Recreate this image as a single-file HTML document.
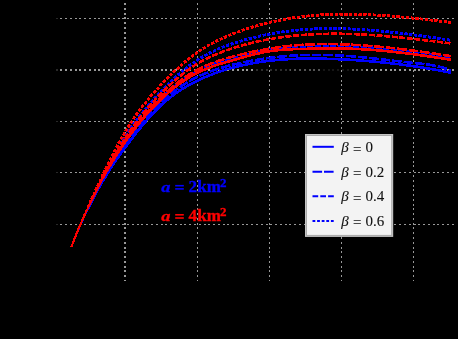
<!DOCTYPE html>
<html><head><meta charset="utf-8"><title>plot</title>
<style>
html,body{margin:0;padding:0;background:#000;}
body{width:458px;height:339px;overflow:hidden;}
svg{display:block;opacity:0.999;will-change:transform;}
text{font-family:"Liberation Serif",serif;}
.lg{font-size:15px;fill:#111;}
.an{font-size:17px;font-weight:bold;}
</style></head>
<body>
<svg width="458" height="339" viewBox="0 0 458 339">
<rect x="0" y="0" width="458" height="339" fill="#000"/>
<g shape-rendering="crispEdges">
<line x1="60.3" y1="18.5" x2="457.3" y2="18.5" stroke="#999999" stroke-width="1" stroke-dasharray="2 2.774"/>
<rect x="56" y="18.0" width="2" height="1" fill="#2a2a2a"/>
<line x1="60.3" y1="70" x2="255" y2="70" stroke="#999999" stroke-width="2" stroke-dasharray="2 2.774" stroke-dashoffset="0.000" opacity="1.0"/>
<line x1="255" y1="70" x2="290" y2="70" stroke="#999999" stroke-width="2" stroke-dasharray="2 2.774" stroke-dashoffset="3.740" opacity="0.3"/>
<line x1="290" y1="70" x2="320" y2="70" stroke="#999999" stroke-width="2" stroke-dasharray="2 2.774" stroke-dashoffset="0.548" opacity="0.55"/>
<line x1="320" y1="70" x2="352" y2="70" stroke="#999999" stroke-width="2" stroke-dasharray="2 2.774" stroke-dashoffset="1.904" opacity="0.15"/>
<line x1="352" y1="70" x2="365" y2="70" stroke="#999999" stroke-width="2" stroke-dasharray="2 2.774" stroke-dashoffset="0.486" opacity="0.6"/>
<line x1="365" y1="70" x2="457.3" y2="70" stroke="#999999" stroke-width="2" stroke-dasharray="2 2.774" stroke-dashoffset="3.938" opacity="1.0"/>
<rect x="56" y="69.0" width="2" height="2" fill="#2a2a2a"/>
<line x1="60.3" y1="121.5" x2="457.3" y2="121.5" stroke="#999999" stroke-width="1" stroke-dasharray="2 2.774"/>
<rect x="56" y="121.0" width="2" height="1" fill="#2a2a2a"/>
<line x1="60.3" y1="172.5" x2="457.3" y2="172.5" stroke="#999999" stroke-width="1" stroke-dasharray="2 2.774"/>
<rect x="56" y="172.0" width="2" height="1" fill="#2a2a2a"/>
<line x1="60.3" y1="224.5" x2="457.3" y2="224.5" stroke="#999999" stroke-width="1" stroke-dasharray="2 2.774"/>
<rect x="56" y="224.0" width="2" height="1" fill="#2a2a2a"/>
<line x1="125" y1="3.12" x2="125" y2="280.7" stroke="#999999" stroke-width="2" stroke-dasharray="2 2.774"/>
<line x1="197.5" y1="3.12" x2="197.5" y2="280.7" stroke="#999999" stroke-width="1" stroke-dasharray="2 2.774"/>
<line x1="269.5" y1="3.12" x2="269.5" y2="280.7" stroke="#999999" stroke-width="1" stroke-dasharray="2 2.774"/>
<line x1="341.5" y1="3.12" x2="341.5" y2="280.7" stroke="#999999" stroke-width="1" stroke-dasharray="2 2.774"/>
<line x1="413.5" y1="3.12" x2="413.5" y2="280.7" stroke="#999999" stroke-width="1" stroke-dasharray="2 2.774"/>
</g>
<g stroke-linejoin="round" shape-rendering="crispEdges">
<path d="M71.20,247.30 L72.73,243.35 L74.25,239.52 L75.78,235.79 L77.31,232.17 L78.84,228.64 L80.36,225.20 L81.89,221.85 L83.42,218.56 L84.95,215.35 L86.47,212.20 L88.00,209.11" fill="none" stroke="#0000ff" stroke-width="1.92"/>
<path d="M88.00,209.11 L89.45,206.22 L90.91,203.36 L92.36,200.53 L93.82,197.74 L95.27,194.98 L96.73,192.26 L98.18,189.57 L99.64,186.92 L101.09,184.32 L102.55,181.75 L104.00,179.23" fill="none" stroke="#0000ff" stroke-width="2.24"/>
<path d="M104.00,179.23 L105.50,176.68 L107.00,174.19 L108.51,171.74 L110.01,169.35 L111.51,167.02 L113.01,164.73 L114.52,162.49 L116.02,160.28 L117.52,158.12 L119.02,155.98 L120.52,153.88 L122.03,151.80 L123.53,149.74 L125.03,147.70 L126.53,145.67 L128.03,143.66 L129.54,141.67 L131.04,139.69 L132.54,137.73 L134.04,135.79 L135.55,133.87 L137.05,131.98 L138.55,130.10 L140.05,128.25 L141.55,126.42 L143.06,124.62 L144.56,122.84 L146.06,121.09 L147.56,119.37 L149.06,117.68 L150.57,116.02 L152.07,114.39 L153.57,112.80 L155.07,111.23 L156.58,109.71 L158.08,108.21 L159.58,106.76 L161.08,105.34 L162.58,103.96 L164.09,102.62 L165.59,101.31 L167.09,100.04 L168.59,98.81 L170.10,97.61 L171.60,96.44 L173.10,95.30 L174.60,94.20 L176.10,93.13 L177.61,92.08 L179.11,91.07 L180.61,90.08 L182.11,89.12 L183.61,88.19 L185.12,87.28 L186.62,86.39 L188.12,85.53 L189.62,84.69 L191.13,83.87 L192.63,83.08 L194.13,82.30 L195.63,81.54 L197.13,80.80 L198.64,80.08 L200.14,79.38 L201.64,78.69 L203.14,78.01 L204.65,77.36 L206.15,76.72 L207.65,76.09 L209.15,75.48 L210.65,74.89 L212.16,74.31 L213.66,73.74 L215.16,73.19 L216.66,72.65 L218.16,72.13 L219.67,71.61 L221.17,71.12 L222.67,70.63 L224.17,70.16 L225.68,69.70 L227.18,69.25 L228.68,68.81 L230.18,68.39 L231.68,67.97 L233.19,67.57 L234.69,67.18 L236.19,66.79 L237.69,66.42 L239.19,66.06 L240.70,65.71 L242.20,65.37 L243.70,65.03 L245.20,64.71 L246.71,64.40 L248.21,64.10 L249.71,63.80 L251.21,63.52 L252.71,63.24 L254.22,62.98 L255.72,62.72 L257.22,62.47 L258.72,62.23 L260.23,62.00 L261.73,61.78 L263.23,61.57 L264.73,61.36 L266.23,61.17 L267.74,60.98 L269.24,60.80 L270.74,60.63 L272.24,60.46 L273.74,60.30 L275.25,60.15 L276.75,60.01 L278.25,59.88 L279.75,59.75 L281.26,59.63 L282.76,59.52 L284.26,59.41 L285.76,59.31 L287.26,59.22 L288.77,59.13 L290.27,59.05 L291.77,58.98 L293.27,58.91 L294.77,58.85 L296.28,58.79 L297.78,58.74 L299.28,58.70 L300.78,58.66 L302.29,58.63 L303.79,58.60 L305.29,58.58 L306.79,58.56 L308.29,58.55 L309.80,58.54 L311.30,58.54 L312.80,58.55 L314.30,58.55 L315.81,58.57 L317.31,58.58 L318.81,58.60 L320.31,58.63 L321.81,58.66 L323.32,58.69 L324.82,58.73 L326.32,58.77 L327.82,58.82 L329.32,58.87 L330.83,58.92 L332.33,58.97 L333.83,59.03 L335.33,59.09 L336.84,59.16 L338.34,59.22 L339.84,59.29 L341.34,59.37 L342.84,59.44 L344.35,59.52 L345.85,59.60 L347.35,59.68 L348.85,59.77 L350.35,59.86 L351.86,59.95 L353.36,60.04 L354.86,60.14 L356.36,60.24 L357.87,60.34 L359.37,60.45 L360.87,60.55 L362.37,60.66 L363.87,60.78 L365.38,60.89 L366.88,61.01 L368.38,61.13 L369.88,61.26 L371.39,61.38 L372.89,61.51 L374.39,61.65 L375.89,61.78 L377.39,61.92 L378.90,62.06 L380.40,62.21 L381.90,62.36 L383.40,62.51 L384.90,62.66 L386.41,62.82 L387.91,62.98 L389.41,63.14 L390.91,63.31 L392.42,63.48 L393.92,63.65 L395.42,63.83 L396.92,64.01 L398.42,64.19 L399.93,64.37 L401.43,64.56 L402.93,64.75 L404.43,64.95 L405.94,65.15 L407.44,65.35 L408.94,65.56 L410.44,65.77 L411.94,65.98 L413.45,66.19 L414.95,66.41 L416.45,66.64 L417.95,66.86 L419.45,67.09 L420.96,67.33 L422.46,67.56 L423.96,67.80 L425.46,68.05 L426.97,68.29 L428.47,68.55 L429.97,68.80 L431.47,69.06 L432.97,69.32 L434.48,69.59 L435.98,69.86 L437.48,70.13 L438.98,70.41 L440.48,70.69 L441.99,70.97 L443.49,71.26 L444.99,71.55 L446.49,71.85 L448.00,72.15 L449.50,72.45 L451.00,72.76" fill="none" stroke="#0000ff" stroke-width="2.60"/>
<path d="M71.20,247.30 L72.73,243.37 L74.25,239.54 L75.78,235.80 L77.31,232.16 L78.84,228.61 L80.36,225.14 L81.89,221.75 L83.42,218.43 L84.95,215.17 L86.47,211.98 L88.00,208.84" fill="none" stroke="#0000ff" stroke-width="1.92" stroke-dasharray="9.6 1.9" stroke-dashoffset="0.00"/>
<path d="M88.00,208.84 L89.45,205.90 L90.91,203.00 L92.36,200.14 L93.82,197.31 L95.27,194.52 L96.73,191.77 L98.18,189.05 L99.64,186.37 L101.09,183.73 L102.55,181.13 L104.00,178.57" fill="none" stroke="#0000ff" stroke-width="2.24" stroke-dasharray="9.6 1.9" stroke-dashoffset="7.48"/>
<path d="M104.00,178.57 L105.50,175.98 L107.00,173.43 L108.51,170.93 L110.01,168.47 L111.51,166.07 L113.01,163.70 L114.52,161.37 L116.02,159.09 L117.52,156.83 L119.02,154.61 L120.52,152.42 L122.03,150.25 L123.53,148.11 L125.03,145.99 L126.53,143.89 L128.03,141.81 L129.54,139.75 L131.04,137.71 L132.54,135.70 L134.04,133.70 L135.55,131.73 L137.05,129.79 L138.55,127.87 L140.05,125.97 L141.55,124.10 L143.06,122.26 L144.56,120.45 L146.06,118.66 L147.56,116.90 L149.06,115.18 L150.57,113.48 L152.07,111.82 L153.57,110.18 L155.07,108.58 L156.58,107.02 L158.08,105.48 L159.58,103.99 L161.08,102.52 L162.58,101.10 L164.09,99.71 L165.59,98.35 L167.09,97.03 L168.59,95.75 L170.10,94.49 L171.60,93.27 L173.10,92.08 L174.60,90.93 L176.10,89.80 L177.61,88.71 L179.11,87.65 L180.61,86.61 L182.11,85.61 L183.61,84.63 L185.12,83.69 L186.62,82.77 L188.12,81.87 L189.62,81.01 L191.13,80.17 L192.63,79.35 L194.13,78.56 L195.63,77.80 L197.13,77.05 L198.64,76.33 L200.14,75.64 L201.64,74.96 L203.14,74.31 L204.65,73.68 L206.15,73.06 L207.65,72.47 L209.15,71.89 L210.65,71.34 L212.16,70.80 L213.66,70.27 L215.16,69.76 L216.66,69.27 L218.16,68.79 L219.67,68.33 L221.17,67.88 L222.67,67.44 L224.17,67.01 L225.68,66.60 L227.18,66.19 L228.68,65.80 L230.18,65.41 L231.68,65.03 L233.19,64.66 L234.69,64.30 L236.19,63.95 L237.69,63.60 L239.19,63.26 L240.70,62.93 L242.20,62.60 L243.70,62.28 L245.20,61.97 L246.71,61.66 L248.21,61.37 L249.71,61.07 L251.21,60.79 L252.71,60.51 L254.22,60.24 L255.72,59.98 L257.22,59.72 L258.72,59.48 L260.23,59.23 L261.73,59.00 L263.23,58.77 L264.73,58.55 L266.23,58.33 L267.74,58.12 L269.24,57.92 L270.74,57.72 L272.24,57.53 L273.74,57.35 L275.25,57.18 L276.75,57.01 L278.25,56.84 L279.75,56.69 L281.26,56.54 L282.76,56.39 L284.26,56.26 L285.76,56.13 L287.26,56.00 L288.77,55.88 L290.27,55.77 L291.77,55.67 L293.27,55.57 L294.77,55.48 L296.28,55.39 L297.78,55.31 L299.28,55.23 L300.78,55.17 L302.29,55.10 L303.79,55.05 L305.29,55.00 L306.79,54.95 L308.29,54.91 L309.80,54.88 L311.30,54.86 L312.80,54.83 L314.30,54.82 L315.81,54.81 L317.31,54.81 L318.81,54.81 L320.31,54.82 L321.81,54.83 L323.32,54.85 L324.82,54.88 L326.32,54.91 L327.82,54.95 L329.32,54.99 L330.83,55.04 L332.33,55.09 L333.83,55.15 L335.33,55.22 L336.84,55.29 L338.34,55.36 L339.84,55.44 L341.34,55.53 L342.84,55.62 L344.35,55.72 L345.85,55.82 L347.35,55.93 L348.85,56.04 L350.35,56.16 L351.86,56.28 L353.36,56.40 L354.86,56.53 L356.36,56.66 L357.87,56.80 L359.37,56.94 L360.87,57.08 L362.37,57.23 L363.87,57.38 L365.38,57.53 L366.88,57.69 L368.38,57.84 L369.88,58.00 L371.39,58.17 L372.89,58.33 L374.39,58.50 L375.89,58.66 L377.39,58.83 L378.90,59.00 L380.40,59.18 L381.90,59.35 L383.40,59.52 L384.90,59.70 L386.41,59.87 L387.91,60.05 L389.41,60.22 L390.91,60.40 L392.42,60.57 L393.92,60.75 L395.42,60.92 L396.92,61.10 L398.42,61.27 L399.93,61.44 L401.43,61.61 L402.93,61.78 L404.43,61.95 L405.94,62.12 L407.44,62.28 L408.94,62.44 L410.44,62.60 L411.94,62.76 L413.45,62.92 L414.95,63.07 L416.45,63.22 L417.95,63.37 L419.45,63.53 L420.96,63.69 L422.46,63.86 L423.96,64.03 L425.46,64.22 L426.97,64.41 L428.47,64.62 L429.97,64.85 L431.47,65.09 L432.97,65.35 L434.48,65.63 L435.98,65.94 L437.48,66.26 L438.98,66.62 L440.48,67.00 L441.99,67.41 L443.49,67.85 L444.99,68.33 L446.49,68.84 L448.00,69.39 L449.50,69.97 L451.00,70.60" fill="none" stroke="#0000ff" stroke-width="2.60" stroke-dasharray="9.6 1.9" stroke-dashoffset="7.22"/>
<path d="M71.20,247.30 L72.73,243.37 L74.25,239.52 L75.78,235.76 L77.31,232.06 L78.84,228.44 L80.36,224.88 L81.89,221.39 L83.42,217.96 L84.95,214.58 L86.47,211.25 L88.00,207.97" fill="none" stroke="#0000ff" stroke-width="1.92" stroke-dasharray="6.0 1.6" stroke-dashoffset="0.00"/>
<path d="M88.00,207.97 L89.45,204.88 L90.91,201.84 L92.36,198.82 L93.82,195.84 L95.27,192.88 L96.73,189.97 L98.18,187.09 L99.64,184.25 L101.09,181.45 L102.55,178.69 L104.00,175.98" fill="none" stroke="#0000ff" stroke-width="2.24" stroke-dasharray="6.0 1.6" stroke-dashoffset="4.78"/>
<path d="M104.00,175.98 L105.50,173.22 L107.00,170.53 L108.51,167.88 L110.01,165.29 L111.51,162.76 L113.01,160.27 L114.52,157.83 L116.02,155.44 L117.52,153.09 L119.02,150.78 L120.52,148.51 L122.03,146.28 L123.53,144.08 L125.03,141.90 L126.53,139.76 L128.03,137.64 L129.54,135.56 L131.04,133.50 L132.54,131.46 L134.04,129.46 L135.55,127.48 L137.05,125.54 L138.55,123.62 L140.05,121.73 L141.55,119.86 L143.06,118.03 L144.56,116.22 L146.06,114.44 L147.56,112.69 L149.06,110.97 L150.57,109.28 L152.07,107.62 L153.57,105.98 L155.07,104.37 L156.58,102.80 L158.08,101.25 L159.58,99.73 L161.08,98.23 L162.58,96.77 L164.09,95.34 L165.59,93.93 L167.09,92.55 L168.59,91.21 L170.10,89.89 L171.60,88.60 L173.10,87.34 L174.60,86.11 L176.10,84.90 L177.61,83.73 L179.11,82.59 L180.61,81.47 L182.11,80.39 L183.61,79.33 L185.12,78.31 L186.62,77.31 L188.12,76.34 L189.62,75.40 L191.13,74.49 L192.63,73.62 L194.13,72.77 L195.63,71.95 L197.13,71.16 L198.64,70.40 L200.14,69.66 L201.64,68.96 L203.14,68.28 L204.65,67.63 L206.15,67.00 L207.65,66.39 L209.15,65.80 L210.65,65.23 L212.16,64.68 L213.66,64.15 L215.16,63.63 L216.66,63.13 L218.16,62.64 L219.67,62.17 L221.17,61.70 L222.67,61.25 L224.17,60.80 L225.68,60.37 L227.18,59.93 L228.68,59.50 L230.18,59.08 L231.68,58.66 L233.19,58.24 L234.69,57.82 L236.19,57.40 L237.69,56.98 L239.19,56.57 L240.70,56.15 L242.20,55.74 L243.70,55.34 L245.20,54.94 L246.71,54.54 L248.21,54.15 L249.71,53.76 L251.21,53.39 L252.71,53.02 L254.22,52.66 L255.72,52.30 L257.22,51.96 L258.72,51.63 L260.23,51.31 L261.73,51.00 L263.23,50.70 L264.73,50.41 L266.23,50.14 L267.74,49.88 L269.24,49.64 L270.74,49.41 L272.24,49.19 L273.74,48.99 L275.25,48.81 L276.75,48.63 L278.25,48.47 L279.75,48.32 L281.26,48.19 L282.76,48.06 L284.26,47.94 L285.76,47.83 L287.26,47.73 L288.77,47.64 L290.27,47.55 L291.77,47.47 L293.27,47.40 L294.77,47.33 L296.28,47.27 L297.78,47.21 L299.28,47.15 L300.78,47.10 L302.29,47.04 L303.79,46.99 L305.29,46.94 L306.79,46.89 L308.29,46.84 L309.80,46.79 L311.30,46.74 L312.80,46.69 L314.30,46.65 L315.81,46.60 L317.31,46.56 L318.81,46.52 L320.31,46.48 L321.81,46.44 L323.32,46.40 L324.82,46.37 L326.32,46.34 L327.82,46.32 L329.32,46.30 L330.83,46.28 L332.33,46.26 L333.83,46.25 L335.33,46.25 L336.84,46.25 L338.34,46.25 L339.84,46.26 L341.34,46.27 L342.84,46.30 L344.35,46.32 L345.85,46.35 L347.35,46.39 L348.85,46.43 L350.35,46.48 L351.86,46.53 L353.36,46.59 L354.86,46.65 L356.36,46.72 L357.87,46.79 L359.37,46.87 L360.87,46.95 L362.37,47.04 L363.87,47.13 L365.38,47.23 L366.88,47.33 L368.38,47.43 L369.88,47.54 L371.39,47.66 L372.89,47.77 L374.39,47.89 L375.89,48.02 L377.39,48.15 L378.90,48.28 L380.40,48.42 L381.90,48.56 L383.40,48.71 L384.90,48.86 L386.41,49.01 L387.91,49.16 L389.41,49.32 L390.91,49.48 L392.42,49.65 L393.92,49.82 L395.42,49.99 L396.92,50.16 L398.42,50.34 L399.93,50.52 L401.43,50.70 L402.93,50.89 L404.43,51.08 L405.94,51.27 L407.44,51.46 L408.94,51.65 L410.44,51.85 L411.94,52.05 L413.45,52.25 L414.95,52.46 L416.45,52.66 L417.95,52.87 L419.45,53.08 L420.96,53.29 L422.46,53.51 L423.96,53.72 L425.46,53.94 L426.97,54.16 L428.47,54.38 L429.97,54.60 L431.47,54.82 L432.97,55.04 L434.48,55.27 L435.98,55.49 L437.48,55.72 L438.98,55.95 L440.48,56.18 L441.99,56.40 L443.49,56.63 L444.99,56.86 L446.49,57.09 L448.00,57.33 L449.50,57.56 L451.00,57.79" fill="none" stroke="#0000ff" stroke-width="2.60" stroke-dasharray="6.0 1.6" stroke-dashoffset="2.55"/>
<path d="M71.20,247.30 L72.73,243.40 L74.25,239.57 L75.78,235.79 L77.31,232.08 L78.84,228.42 L80.36,224.81 L81.89,221.25 L83.42,217.74 L84.95,214.28 L86.47,210.86 L88.00,207.49" fill="none" stroke="#0000ff" stroke-width="2.15" stroke-dasharray="3.3 1.45" stroke-dashoffset="0.00"/>
<path d="M88.00,207.49 L89.45,204.31 L90.91,201.17 L92.36,198.06 L93.82,194.98 L95.27,191.93 L96.73,188.92 L98.18,185.94 L99.64,182.99 L101.09,180.07 L102.55,177.19 L104.00,174.34" fill="none" stroke="#0000ff" stroke-width="2.49" stroke-dasharray="3.3 1.45" stroke-dashoffset="0.47"/>
<path d="M104.00,174.34 L105.50,171.43 L107.00,168.55 L108.51,165.72 L110.01,162.92 L111.51,160.15 L113.01,157.43 L114.52,154.74 L116.02,152.10 L117.52,149.50 L119.02,146.94 L120.52,144.42 L122.03,141.95 L123.53,139.52 L125.03,137.14 L126.53,134.80 L128.03,132.52 L129.54,130.27 L131.04,128.07 L132.54,125.91 L134.04,123.80 L135.55,121.72 L137.05,119.68 L138.55,117.68 L140.05,115.72 L141.55,113.79 L143.06,111.89 L144.56,110.03 L146.06,108.20 L147.56,106.40 L149.06,104.63 L150.57,102.89 L152.07,101.17 L153.57,99.48 L155.07,97.82 L156.58,96.17 L158.08,94.55 L159.58,92.96 L161.08,91.38 L162.58,89.82 L164.09,88.28 L165.59,86.75 L167.09,85.25 L168.59,83.77 L170.10,82.31 L171.60,80.87 L173.10,79.46 L174.60,78.06 L176.10,76.69 L177.61,75.35 L179.11,74.02 L180.61,72.73 L182.11,71.45 L183.61,70.21 L185.12,68.98 L186.62,67.79 L188.12,66.62 L189.62,65.48 L191.13,64.37 L192.63,63.28 L194.13,62.23 L195.63,61.20 L197.13,60.21 L198.64,59.24 L200.14,58.31 L201.64,57.40 L203.14,56.52 L204.65,55.67 L206.15,54.84 L207.65,54.04 L209.15,53.26 L210.65,52.51 L212.16,51.78 L213.66,51.07 L215.16,50.38 L216.66,49.71 L218.16,49.06 L219.67,48.43 L221.17,47.82 L222.67,47.22 L224.17,46.64 L225.68,46.07 L227.18,45.52 L228.68,44.98 L230.18,44.45 L231.68,43.94 L233.19,43.43 L234.69,42.93 L236.19,42.45 L237.69,41.97 L239.19,41.51 L240.70,41.05 L242.20,40.60 L243.70,40.16 L245.20,39.73 L246.71,39.31 L248.21,38.90 L249.71,38.50 L251.21,38.11 L252.71,37.73 L254.22,37.35 L255.72,36.99 L257.22,36.63 L258.72,36.28 L260.23,35.94 L261.73,35.61 L263.23,35.29 L264.73,34.98 L266.23,34.67 L267.74,34.37 L269.24,34.09 L270.74,33.80 L272.24,33.53 L273.74,33.27 L275.25,33.01 L276.75,32.76 L278.25,32.52 L279.75,32.29 L281.26,32.06 L282.76,31.85 L284.26,31.64 L285.76,31.44 L287.26,31.24 L288.77,31.05 L290.27,30.87 L291.77,30.70 L293.27,30.54 L294.77,30.38 L296.28,30.23 L297.78,30.08 L299.28,29.94 L300.78,29.81 L302.29,29.69 L303.79,29.57 L305.29,29.46 L306.79,29.36 L308.29,29.26 L309.80,29.17 L311.30,29.09 L312.80,29.01 L314.30,28.94 L315.81,28.87 L317.31,28.82 L318.81,28.76 L320.31,28.72 L321.81,28.68 L323.32,28.64 L324.82,28.61 L326.32,28.59 L327.82,28.57 L329.32,28.56 L330.83,28.55 L332.33,28.55 L333.83,28.56 L335.33,28.57 L336.84,28.58 L338.34,28.60 L339.84,28.63 L341.34,28.66 L342.84,28.69 L344.35,28.73 L345.85,28.78 L347.35,28.83 L348.85,28.89 L350.35,28.95 L351.86,29.01 L353.36,29.08 L354.86,29.15 L356.36,29.23 L357.87,29.31 L359.37,29.40 L360.87,29.49 L362.37,29.59 L363.87,29.69 L365.38,29.79 L366.88,29.90 L368.38,30.01 L369.88,30.13 L371.39,30.24 L372.89,30.37 L374.39,30.49 L375.89,30.62 L377.39,30.76 L378.90,30.89 L380.40,31.04 L381.90,31.18 L383.40,31.33 L384.90,31.48 L386.41,31.63 L387.91,31.79 L389.41,31.95 L390.91,32.11 L392.42,32.27 L393.92,32.44 L395.42,32.61 L396.92,32.79 L398.42,32.96 L399.93,33.14 L401.43,33.32 L402.93,33.51 L404.43,33.69 L405.94,33.88 L407.44,34.07 L408.94,34.27 L410.44,34.46 L411.94,34.66 L413.45,34.86 L414.95,35.06 L416.45,35.26 L417.95,35.46 L419.45,35.67 L420.96,35.88 L422.46,36.09 L423.96,36.30 L425.46,36.51 L426.97,36.72 L428.47,36.94 L429.97,37.15 L431.47,37.37 L432.97,37.59 L434.48,37.81 L435.98,38.03 L437.48,38.25 L438.98,38.47 L440.48,38.70 L441.99,38.92 L443.49,39.14 L444.99,39.37 L446.49,39.59 L448.00,39.82 L449.50,40.05 L451.00,40.27" fill="none" stroke="#0000ff" stroke-width="2.90" stroke-dasharray="3.3 1.45" stroke-dashoffset="4.03"/>
<path d="M71.20,247.30 L72.73,243.37 L74.25,239.52 L75.78,235.75 L77.31,232.05 L78.84,228.43 L80.36,224.86 L81.89,221.37 L83.42,217.93 L84.95,214.55 L86.47,211.22 L88.00,207.94" fill="none" stroke="#ff0000" stroke-width="1.92"/>
<path d="M88.00,207.94 L89.45,204.86 L90.91,201.82 L92.36,198.82 L93.82,195.85 L95.27,192.91 L96.73,190.02 L98.18,187.16 L99.64,184.34 L101.09,181.56 L102.55,178.82 L104.00,176.13" fill="none" stroke="#ff0000" stroke-width="2.24"/>
<path d="M104.00,176.13 L105.50,173.40 L107.00,170.71 L108.51,168.08 L110.01,165.49 L111.51,162.96 L113.01,160.47 L114.52,158.03 L116.02,155.63 L117.52,153.27 L119.02,150.96 L120.52,148.68 L122.03,146.44 L123.53,144.24 L125.03,142.07 L126.53,139.93 L128.03,137.83 L129.54,135.75 L131.04,133.71 L132.54,131.70 L134.04,129.72 L135.55,127.78 L137.05,125.86 L138.55,123.97 L140.05,122.12 L141.55,120.29 L143.06,118.50 L144.56,116.73 L146.06,115.00 L147.56,113.29 L149.06,111.61 L150.57,109.97 L152.07,108.35 L153.57,106.76 L155.07,105.20 L156.58,103.67 L158.08,102.17 L159.58,100.69 L161.08,99.25 L162.58,97.83 L164.09,96.44 L165.59,95.07 L167.09,93.74 L168.59,92.43 L170.10,91.15 L171.60,89.90 L173.10,88.68 L174.60,87.48 L176.10,86.32 L177.61,85.18 L179.11,84.07 L180.61,82.98 L182.11,81.93 L183.61,80.90 L185.12,79.91 L186.62,78.94 L188.12,78.00 L189.62,77.08 L191.13,76.20 L192.63,75.34 L194.13,74.51 L195.63,73.71 L197.13,72.94 L198.64,72.20 L200.14,71.48 L201.64,70.79 L203.14,70.13 L204.65,69.48 L206.15,68.86 L207.65,68.27 L209.15,67.69 L210.65,67.13 L212.16,66.58 L213.66,66.06 L215.16,65.54 L216.66,65.05 L218.16,64.56 L219.67,64.09 L221.17,63.62 L222.67,63.17 L224.17,62.72 L225.68,62.28 L227.18,61.84 L228.68,61.41 L230.18,60.98 L231.68,60.55 L233.19,60.12 L234.69,59.70 L236.19,59.27 L237.69,58.84 L239.19,58.42 L240.70,57.99 L242.20,57.57 L243.70,57.16 L245.20,56.74 L246.71,56.34 L248.21,55.94 L249.71,55.54 L251.21,55.15 L252.71,54.77 L254.22,54.40 L255.72,54.04 L257.22,53.69 L258.72,53.35 L260.23,53.02 L261.73,52.70 L263.23,52.40 L264.73,52.10 L266.23,51.83 L267.74,51.57 L269.24,51.32 L270.74,51.09 L272.24,50.88 L273.74,50.68 L275.25,50.49 L276.75,50.32 L278.25,50.17 L279.75,50.02 L281.26,49.89 L282.76,49.77 L284.26,49.66 L285.76,49.56 L287.26,49.47 L288.77,49.39 L290.27,49.32 L291.77,49.25 L293.27,49.19 L294.77,49.13 L296.28,49.08 L297.78,49.04 L299.28,48.99 L300.78,48.95 L302.29,48.92 L303.79,48.88 L305.29,48.84 L306.79,48.81 L308.29,48.77 L309.80,48.74 L311.30,48.70 L312.80,48.67 L314.30,48.64 L315.81,48.61 L317.31,48.58 L318.81,48.55 L320.31,48.53 L321.81,48.51 L323.32,48.48 L324.82,48.47 L326.32,48.45 L327.82,48.44 L329.32,48.43 L330.83,48.42 L332.33,48.42 L333.83,48.42 L335.33,48.42 L336.84,48.43 L338.34,48.45 L339.84,48.46 L341.34,48.48 L342.84,48.51 L344.35,48.54 L345.85,48.58 L347.35,48.62 L348.85,48.66 L350.35,48.71 L351.86,48.77 L353.36,48.83 L354.86,48.89 L356.36,48.96 L357.87,49.03 L359.37,49.11 L360.87,49.19 L362.37,49.27 L363.87,49.36 L365.38,49.45 L366.88,49.55 L368.38,49.65 L369.88,49.76 L371.39,49.86 L372.89,49.98 L374.39,50.09 L375.89,50.21 L377.39,50.34 L378.90,50.46 L380.40,50.59 L381.90,50.73 L383.40,50.87 L384.90,51.01 L386.41,51.15 L387.91,51.30 L389.41,51.45 L390.91,51.60 L392.42,51.76 L393.92,51.92 L395.42,52.08 L396.92,52.25 L398.42,52.42 L399.93,52.59 L401.43,52.77 L402.93,52.94 L404.43,53.12 L405.94,53.31 L407.44,53.49 L408.94,53.68 L410.44,53.87 L411.94,54.06 L413.45,54.26 L414.95,54.46 L416.45,54.66 L417.95,54.86 L419.45,55.07 L420.96,55.27 L422.46,55.48 L423.96,55.69 L425.46,55.91 L426.97,56.12 L428.47,56.34 L429.97,56.56 L431.47,56.78 L432.97,57.00 L434.48,57.22 L435.98,57.45 L437.48,57.68 L438.98,57.91 L440.48,58.14 L441.99,58.37 L443.49,58.60 L444.99,58.84 L446.49,59.07 L448.00,59.31 L449.50,59.55 L451.00,59.79" fill="none" stroke="#ff0000" stroke-width="2.60"/>
<path d="M71.20,247.30 L72.73,243.18 L74.25,239.21 L75.78,235.37 L77.31,231.64 L78.84,228.03 L80.36,224.51 L81.89,221.07 L83.42,217.72 L84.95,214.42 L86.47,211.17 L88.00,207.97" fill="none" stroke="#ff0000" stroke-width="1.92" stroke-dasharray="9.6 1.9" stroke-dashoffset="0.00"/>
<path d="M88.00,207.97 L89.45,204.94 L90.91,201.93 L92.36,198.92 L93.82,195.92 L95.27,192.92 L96.73,189.94 L98.18,186.98 L99.64,184.04 L101.09,181.13 L102.55,178.26 L104.00,175.44" fill="none" stroke="#ff0000" stroke-width="2.24" stroke-dasharray="9.6 1.9" stroke-dashoffset="8.29"/>
<path d="M104.00,175.44 L105.50,172.58 L107.00,169.77 L108.51,167.04 L110.01,164.38 L111.51,161.78 L113.01,159.25 L114.52,156.77 L116.02,154.36 L117.52,151.99 L119.02,149.67 L120.52,147.40 L122.03,145.16 L123.53,142.96 L125.03,140.80 L126.53,138.66 L128.03,136.55 L129.54,134.47 L131.04,132.42 L132.54,130.39 L134.04,128.40 L135.55,126.43 L137.05,124.49 L138.55,122.58 L140.05,120.70 L141.55,118.84 L143.06,117.02 L144.56,115.22 L146.06,113.45 L147.56,111.71 L149.06,110.00 L150.57,108.31 L152.07,106.65 L153.57,105.02 L155.07,103.42 L156.58,101.85 L158.08,100.31 L159.58,98.79 L161.08,97.30 L162.58,95.84 L164.09,94.41 L165.59,93.00 L167.09,91.63 L168.59,90.28 L170.10,88.96 L171.60,87.67 L173.10,86.40 L174.60,85.16 L176.10,83.96 L177.61,82.77 L179.11,81.62 L180.61,80.50 L182.11,79.40 L183.61,78.33 L185.12,77.29 L186.62,76.28 L188.12,75.29 L189.62,74.33 L191.13,73.40 L192.63,72.50 L194.13,71.62 L195.63,70.78 L197.13,69.96 L198.64,69.17 L200.14,68.40 L201.64,67.66 L203.14,66.95 L204.65,66.26 L206.15,65.59 L207.65,64.95 L209.15,64.32 L210.65,63.72 L212.16,63.14 L213.66,62.57 L215.16,62.03 L216.66,61.50 L218.16,60.98 L219.67,60.48 L221.17,60.00 L222.67,59.52 L224.17,59.06 L225.68,58.62 L227.18,58.18 L228.68,57.75 L230.18,57.33 L231.68,56.92 L233.19,56.51 L234.69,56.11 L236.19,55.72 L237.69,55.33 L239.19,54.95 L240.70,54.58 L242.20,54.21 L243.70,53.85 L245.20,53.49 L246.71,53.14 L248.21,52.80 L249.71,52.46 L251.21,52.13 L252.71,51.80 L254.22,51.49 L255.72,51.17 L257.22,50.87 L258.72,50.57 L260.23,50.28 L261.73,49.99 L263.23,49.71 L264.73,49.44 L266.23,49.17 L267.74,48.91 L269.24,48.66 L270.74,48.41 L272.24,48.17 L273.74,47.94 L275.25,47.71 L276.75,47.49 L278.25,47.28 L279.75,47.07 L281.26,46.87 L282.76,46.68 L284.26,46.49 L285.76,46.31 L287.26,46.14 L288.77,45.97 L290.27,45.81 L291.77,45.66 L293.27,45.52 L294.77,45.38 L296.28,45.25 L297.78,45.12 L299.28,45.01 L300.78,44.90 L302.29,44.79 L303.79,44.70 L305.29,44.61 L306.79,44.53 L308.29,44.45 L309.80,44.39 L311.30,44.33 L312.80,44.27 L314.30,44.22 L315.81,44.18 L317.31,44.15 L318.81,44.12 L320.31,44.10 L321.81,44.08 L323.32,44.07 L324.82,44.06 L326.32,44.06 L327.82,44.07 L329.32,44.08 L330.83,44.09 L332.33,44.11 L333.83,44.14 L335.33,44.16 L336.84,44.20 L338.34,44.24 L339.84,44.28 L341.34,44.33 L342.84,44.38 L344.35,44.43 L345.85,44.49 L347.35,44.55 L348.85,44.62 L350.35,44.69 L351.86,44.76 L353.36,44.84 L354.86,44.92 L356.36,45.01 L357.87,45.10 L359.37,45.19 L360.87,45.28 L362.37,45.38 L363.87,45.49 L365.38,45.59 L366.88,45.70 L368.38,45.82 L369.88,45.93 L371.39,46.05 L372.89,46.18 L374.39,46.30 L375.89,46.43 L377.39,46.57 L378.90,46.70 L380.40,46.84 L381.90,46.98 L383.40,47.13 L384.90,47.28 L386.41,47.43 L387.91,47.58 L389.41,47.74 L390.91,47.90 L392.42,48.06 L393.92,48.23 L395.42,48.39 L396.92,48.57 L398.42,48.74 L399.93,48.91 L401.43,49.09 L402.93,49.28 L404.43,49.46 L405.94,49.65 L407.44,49.83 L408.94,50.03 L410.44,50.22 L411.94,50.42 L413.45,50.61 L414.95,50.81 L416.45,51.02 L417.95,51.22 L419.45,51.43 L420.96,51.64 L422.46,51.85 L423.96,52.06 L425.46,52.28 L426.97,52.50 L428.47,52.72 L429.97,52.94 L431.47,53.16 L432.97,53.39 L434.48,53.61 L435.98,53.84 L437.48,54.07 L438.98,54.31 L440.48,54.54 L441.99,54.78 L443.49,55.01 L444.99,55.25 L446.49,55.49 L448.00,55.73 L449.50,55.98 L451.00,56.22" fill="none" stroke="#ff0000" stroke-width="2.60" stroke-dasharray="9.6 1.9" stroke-dashoffset="10.04"/>
<path d="M71.20,247.30 L72.73,243.37 L74.25,239.51 L75.78,235.72 L77.31,232.00 L78.84,228.34 L80.36,224.75 L81.89,221.21 L83.42,217.73 L84.95,214.30 L86.47,210.92 L88.00,207.58" fill="none" stroke="#ff0000" stroke-width="1.92" stroke-dasharray="6.0 1.6" stroke-dashoffset="0.00"/>
<path d="M88.00,207.58 L89.45,204.45 L90.91,201.35 L92.36,198.28 L93.82,195.24 L95.27,192.24 L96.73,189.26 L98.18,186.32 L99.64,183.42 L101.09,180.54 L102.55,177.70 L104.00,174.90" fill="none" stroke="#ff0000" stroke-width="2.24" stroke-dasharray="6.0 1.6" stroke-dashoffset="5.13"/>
<path d="M104.00,174.90 L105.50,172.04 L107.00,169.21 L108.51,166.43 L110.01,163.68 L111.51,160.97 L113.01,158.30 L114.52,155.67 L116.02,153.08 L117.52,150.54 L119.02,148.03 L120.52,145.57 L122.03,143.15 L123.53,140.77 L125.03,138.43 L126.53,136.14 L128.03,133.89 L129.54,131.69 L131.04,129.52 L132.54,127.40 L134.04,125.31 L135.55,123.27 L137.05,121.26 L138.55,119.29 L140.05,117.35 L141.55,115.45 L143.06,113.58 L144.56,111.75 L146.06,109.94 L147.56,108.17 L149.06,106.43 L150.57,104.72 L152.07,103.04 L153.57,101.38 L155.07,99.75 L156.58,98.15 L158.08,96.57 L159.58,95.02 L161.08,93.48 L162.58,91.98 L164.09,90.49 L165.59,89.02 L167.09,87.58 L168.59,86.16 L170.10,84.77 L171.60,83.40 L173.10,82.05 L174.60,80.73 L176.10,79.43 L177.61,78.16 L179.11,76.91 L180.61,75.68 L182.11,74.48 L183.61,73.31 L185.12,72.16 L186.62,71.04 L188.12,69.94 L189.62,68.88 L191.13,67.83 L192.63,66.82 L194.13,65.83 L195.63,64.87 L197.13,63.94 L198.64,63.03 L200.14,62.16 L201.64,61.30 L203.14,60.48 L204.65,59.68 L206.15,58.90 L207.65,58.15 L209.15,57.42 L210.65,56.71 L212.16,56.02 L213.66,55.35 L215.16,54.70 L216.66,54.07 L218.16,53.45 L219.67,52.86 L221.17,52.28 L222.67,51.71 L224.17,51.16 L225.68,50.63 L227.18,50.10 L228.68,49.59 L230.18,49.09 L231.68,48.60 L233.19,48.13 L234.69,47.66 L236.19,47.19 L237.69,46.74 L239.19,46.30 L240.70,45.87 L242.20,45.44 L243.70,45.03 L245.20,44.62 L246.71,44.22 L248.21,43.83 L249.71,43.45 L251.21,43.07 L252.71,42.71 L254.22,42.35 L255.72,42.01 L257.22,41.67 L258.72,41.33 L260.23,41.01 L261.73,40.69 L263.23,40.39 L264.73,40.09 L266.23,39.80 L267.74,39.51 L269.24,39.24 L270.74,38.97 L272.24,38.71 L273.74,38.45 L275.25,38.21 L276.75,37.97 L278.25,37.74 L279.75,37.51 L281.26,37.30 L282.76,37.09 L284.26,36.88 L285.76,36.69 L287.26,36.50 L288.77,36.32 L290.27,36.14 L291.77,35.97 L293.27,35.81 L294.77,35.66 L296.28,35.51 L297.78,35.37 L299.28,35.23 L300.78,35.10 L302.29,34.98 L303.79,34.86 L305.29,34.75 L306.79,34.65 L308.29,34.55 L309.80,34.46 L311.30,34.37 L312.80,34.29 L314.30,34.22 L315.81,34.15 L317.31,34.09 L318.81,34.03 L320.31,33.98 L321.81,33.93 L323.32,33.89 L324.82,33.85 L326.32,33.82 L327.82,33.80 L329.32,33.78 L330.83,33.76 L332.33,33.75 L333.83,33.75 L335.33,33.75 L336.84,33.75 L338.34,33.76 L339.84,33.78 L341.34,33.79 L342.84,33.82 L344.35,33.85 L345.85,33.88 L347.35,33.92 L348.85,33.96 L350.35,34.00 L351.86,34.05 L353.36,34.11 L354.86,34.16 L356.36,34.23 L357.87,34.29 L359.37,34.36 L360.87,34.44 L362.37,34.51 L363.87,34.59 L365.38,34.68 L366.88,34.77 L368.38,34.86 L369.88,34.95 L371.39,35.05 L372.89,35.15 L374.39,35.26 L375.89,35.37 L377.39,35.48 L378.90,35.59 L380.40,35.71 L381.90,35.83 L383.40,35.96 L384.90,36.08 L386.41,36.21 L387.91,36.34 L389.41,36.48 L390.91,36.61 L392.42,36.75 L393.92,36.89 L395.42,37.04 L396.92,37.18 L398.42,37.33 L399.93,37.48 L401.43,37.64 L402.93,37.79 L404.43,37.95 L405.94,38.11 L407.44,38.27 L408.94,38.43 L410.44,38.59 L411.94,38.76 L413.45,38.93 L414.95,39.09 L416.45,39.26 L417.95,39.44 L419.45,39.61 L420.96,39.78 L422.46,39.96 L423.96,40.14 L425.46,40.31 L426.97,40.49 L428.47,40.67 L429.97,40.85 L431.47,41.03 L432.97,41.22 L434.48,41.40 L435.98,41.58 L437.48,41.77 L438.98,41.95 L440.48,42.13 L441.99,42.32 L443.49,42.51 L444.99,42.69 L446.49,42.88 L448.00,43.06 L449.50,43.25 L451.00,43.44" fill="none" stroke="#ff0000" stroke-width="2.60" stroke-dasharray="6.0 1.6" stroke-dashoffset="3.53"/>
<path d="M71.20,247.30 L72.73,243.32 L74.25,239.42 L75.78,235.58 L77.31,231.80 L78.84,228.08 L80.36,224.41 L81.89,220.79 L83.42,217.22 L84.95,213.69 L86.47,210.21 L88.00,206.75" fill="none" stroke="#ff0000" stroke-width="2.15" stroke-dasharray="3.3 1.45" stroke-dashoffset="0.00"/>
<path d="M88.00,206.75 L89.45,203.50 L90.91,200.26 L92.36,197.05 L93.82,193.86 L95.27,190.69 L96.73,187.55 L98.18,184.42 L99.64,181.32 L101.09,178.24 L102.55,175.19 L104.00,172.16" fill="none" stroke="#ff0000" stroke-width="2.49" stroke-dasharray="3.3 1.45" stroke-dashoffset="1.14"/>
<path d="M104.00,172.16 L105.50,169.06 L107.00,165.99 L108.51,162.95 L110.01,159.94 L111.51,156.96 L113.01,154.02 L114.52,151.12 L116.02,148.26 L117.52,145.45 L119.02,142.68 L120.52,139.97 L122.03,137.30 L123.53,134.69 L125.03,132.14 L126.53,129.65 L128.03,127.21 L129.54,124.84 L131.04,122.51 L132.54,120.25 L134.04,118.03 L135.55,115.86 L137.05,113.74 L138.55,111.67 L140.05,109.64 L141.55,107.65 L143.06,105.70 L144.56,103.79 L146.06,101.92 L147.56,100.09 L149.06,98.28 L150.57,96.51 L152.07,94.77 L153.57,93.06 L155.07,91.37 L156.58,89.70 L158.08,88.06 L159.58,86.44 L161.08,84.84 L162.58,83.26 L164.09,81.69 L165.59,80.14 L167.09,78.61 L168.59,77.10 L170.10,75.61 L171.60,74.14 L173.10,72.69 L174.60,71.26 L176.10,69.85 L177.61,68.46 L179.11,67.10 L180.61,65.76 L182.11,64.44 L183.61,63.14 L185.12,61.87 L186.62,60.62 L188.12,59.40 L189.62,58.20 L191.13,57.03 L192.63,55.88 L194.13,54.76 L195.63,53.67 L197.13,52.61 L198.64,51.57 L200.14,50.56 L201.64,49.58 L203.14,48.62 L204.65,47.69 L206.15,46.78 L207.65,45.89 L209.15,45.03 L210.65,44.19 L212.16,43.37 L213.66,42.58 L215.16,41.80 L216.66,41.04 L218.16,40.30 L219.67,39.58 L221.17,38.87 L222.67,38.18 L224.17,37.51 L225.68,36.85 L227.18,36.21 L228.68,35.57 L230.18,34.96 L231.68,34.35 L233.19,33.75 L234.69,33.17 L236.19,32.59 L237.69,32.03 L239.19,31.48 L240.70,30.93 L242.20,30.40 L243.70,29.88 L245.20,29.37 L246.71,28.86 L248.21,28.37 L249.71,27.89 L251.21,27.41 L252.71,26.95 L254.22,26.50 L255.72,26.05 L257.22,25.62 L258.72,25.19 L260.23,24.78 L261.73,24.37 L263.23,23.97 L264.73,23.58 L266.23,23.20 L267.74,22.83 L269.24,22.47 L270.74,22.12 L272.24,21.78 L273.74,21.44 L275.25,21.11 L276.75,20.80 L278.25,20.49 L279.75,20.18 L281.26,19.89 L282.76,19.61 L284.26,19.33 L285.76,19.06 L287.26,18.80 L288.77,18.55 L290.27,18.30 L291.77,18.07 L293.27,17.84 L294.77,17.62 L296.28,17.40 L297.78,17.20 L299.28,17.00 L300.78,16.81 L302.29,16.62 L303.79,16.45 L305.29,16.28 L306.79,16.11 L308.29,15.96 L309.80,15.81 L311.30,15.67 L312.80,15.53 L314.30,15.41 L315.81,15.28 L317.31,15.17 L318.81,15.06 L320.31,14.96 L321.81,14.86 L323.32,14.77 L324.82,14.69 L326.32,14.61 L327.82,14.54 L329.32,14.48 L330.83,14.42 L332.33,14.36 L333.83,14.32 L335.33,14.27 L336.84,14.24 L338.34,14.21 L339.84,14.18 L341.34,14.16 L342.84,14.15 L344.35,14.14 L345.85,14.14 L347.35,14.14 L348.85,14.14 L350.35,14.15 L351.86,14.17 L353.36,14.19 L354.86,14.22 L356.36,14.25 L357.87,14.28 L359.37,14.32 L360.87,14.37 L362.37,14.41 L363.87,14.47 L365.38,14.52 L366.88,14.59 L368.38,14.65 L369.88,14.72 L371.39,14.79 L372.89,14.87 L374.39,14.95 L375.89,15.04 L377.39,15.12 L378.90,15.22 L380.40,15.31 L381.90,15.41 L383.40,15.51 L384.90,15.62 L386.41,15.73 L387.91,15.84 L389.41,15.95 L390.91,16.07 L392.42,16.19 L393.92,16.32 L395.42,16.44 L396.92,16.57 L398.42,16.70 L399.93,16.84 L401.43,16.98 L402.93,17.11 L404.43,17.26 L405.94,17.40 L407.44,17.55 L408.94,17.70 L410.44,17.85 L411.94,18.00 L413.45,18.15 L414.95,18.31 L416.45,18.47 L417.95,18.63 L419.45,18.79 L420.96,18.95 L422.46,19.12 L423.96,19.28 L425.46,19.45 L426.97,19.62 L428.47,19.79 L429.97,19.96 L431.47,20.13 L432.97,20.30 L434.48,20.47 L435.98,20.65 L437.48,20.82 L438.98,21.00 L440.48,21.18 L441.99,21.35 L443.49,21.53 L444.99,21.71 L446.49,21.89 L448.00,22.06 L449.50,22.24 L451.00,22.42" fill="none" stroke="#ff0000" stroke-width="2.90" stroke-dasharray="3.3 1.45" stroke-dashoffset="1.26"/>
</g>
<g>

<rect x="305" y="134" width="88.2" height="102.9" fill="#c6c6c6"/>
<rect x="306" y="135" width="86.2" height="100.9" fill="#ababab"/>
<rect x="307" y="136" width="84.2" height="98.9" fill="#f4f4f4"/>
<line x1="312.5" y1="146.8" x2="333.8" y2="146.8" stroke="#0000ff" stroke-width="2"/>
<line x1="312.5" y1="171.7" x2="333.8" y2="171.7" stroke="#0000ff" stroke-width="2" stroke-dasharray="9.6 1.9"/>
<line x1="312.5" y1="196.2" x2="333.8" y2="196.2" stroke="#0000ff" stroke-width="2" stroke-dasharray="5.7 2.1"/>
<line x1="312.5" y1="220.9" x2="333.8" y2="220.9" stroke="#0000ff" stroke-width="2" stroke-dasharray="2.8 1.8"/>
<g class="lg" stroke="#111" stroke-width="0.1"><text x="341.2" y="152.2" font-style="italic">β</text><text x="353.1" y="153.5">=</text><text x="365.6" y="152.2">0</text></g>
<g class="lg" stroke="#111" stroke-width="0.1"><text x="341.2" y="176.7" font-style="italic">β</text><text x="353.1" y="178.0">=</text><text x="365.6" y="176.7">0.2</text></g>
<g class="lg" stroke="#111" stroke-width="0.1"><text x="341.2" y="201.2" font-style="italic">β</text><text x="353.1" y="202.5">=</text><text x="365.6" y="201.2">0.4</text></g>
<g class="lg" stroke="#111" stroke-width="0.1"><text x="341.2" y="225.7" font-style="italic">β</text><text x="353.1" y="227.0">=</text><text x="365.6" y="225.7">0.6</text></g>

</g>
<g>
<g fill="#0000ff" stroke="#0000ff" stroke-width="0.35" class="an">
<text transform="translate(161.2,191.9) scale(1.22,1)" font-style="italic" font-size="15">a</text>
<rect x="175.2" y="184.9" width="8.6" height="1.6" stroke="none"/><rect x="175.2" y="188.1" width="8.6" height="1.6" stroke="none"/>
<text x="188.6" y="191.9">2</text>
<text x="197.2" y="191.9">km</text>
<text x="220.0" y="186.7" font-size="13">2</text>
</g>
<g fill="#ff0000" stroke="#ff0000" stroke-width="0.35" class="an">
<text transform="translate(161.2,221.0) scale(1.22,1)" font-style="italic" font-size="15">a</text>
<rect x="175.2" y="214.0" width="8.6" height="1.6" stroke="none"/><rect x="175.2" y="217.2" width="8.6" height="1.6" stroke="none"/>
<text x="188.6" y="221.0">4</text>
<text x="197.2" y="221.0">km</text>
<text x="220.0" y="215.8" font-size="13">2</text>
</g>

</g>
</svg>
</body></html>
